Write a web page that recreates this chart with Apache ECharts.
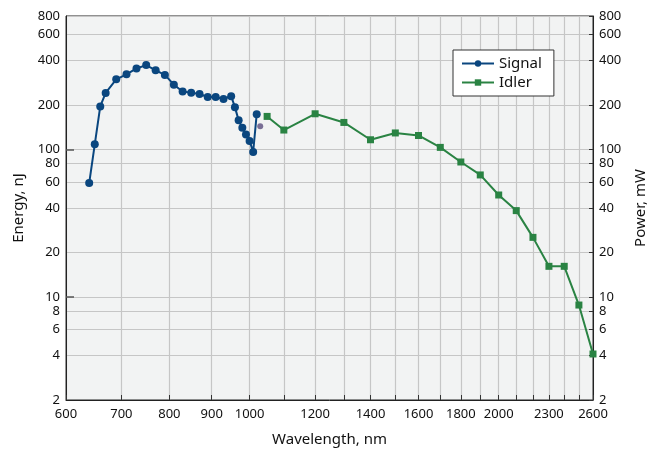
<!DOCTYPE html>
<html>
<head>
<meta charset="utf-8">
<script src="https://cdn.jsdelivr.net/npm/echarts@6/dist/echarts.min.js"></script>
<style>
  html, body { margin: 0; padding: 0; background: #fff; }
  #chart { width: 659px; height: 453px; }
</style>
</head>
<body>
<div id="chart"></div>
<script>
// signal (blue) - wavelength nm / energy nJ
var signalWl = [640, 650, 660, 670, 690, 710, 730, 750, 770, 790, 810, 830, 850, 870, 890, 910, 930, 950, 960, 970, 980, 990, 1000, 1010, 1020];
var signalE = [59, 108, 195, 241, 298, 322, 353, 372, 343, 319, 274, 246, 242, 237, 226, 226, 219, 229, 193, 157, 140, 126, 114, 96, 173];

// lone purple point next to the signal curve
var extraWl = [1030];
var extraE = [143];

// idler (green) - wavelength nm / power mW
var idlerWl = [1050, 1100, 1200, 1300, 1400, 1500, 1600, 1700, 1800, 1900, 2000, 2100, 2200, 2300, 2400, 2500, 2600];
var idlerP = [167, 135, 174, 152, 116, 129, 124, 103, 82, 67, 49, 38.4, 25.3, 16.1, 16.1, 8.8, 4.1];

// axis ticks
var xTicks = [600, 700, 800, 900, 1000, 1100, 1200, 1300, 1400, 1500, 1600, 1700, 1800, 1900, 2000, 2100, 2200, 2300, 2400, 2500, 2600];
var xLabels = [600, 700, 800, 900, 1000, 1200, 1400, 1600, 1800, 2000, 2300, 2600];
var yTicks = [2, 4, 6, 8, 10, 20, 40, 60, 80, 100, 200, 400, 600, 800];
var yMajor = [10, 100];

function pairs(xs, ys) {
    return xs.map((x, i) => [x, ys[i]]);
}

var font = 'Noto Sans';
var plain = v => String(Math.round(v));

const option = {
    animation: false,
    textStyle: { fontFamily: font },
    grid: {
        left: 66, right: 66, top: 16, bottom: 53,
        show: true,
        backgroundColor: '#f2f3f3',
        borderColor: '#222',
        borderWidth: 1
    },
    legend: {
        data: ['Signal', 'Idler'],
        orient: 'vertical',
        left: 453, top: 50,
        backgroundColor: '#fff',
        borderColor: '#333',
        borderWidth: 1,
        borderRadius: 0,
        padding: [6, 12, 6, 8],
        itemGap: 4,
        itemWidth: 32,
        itemHeight: 8,
        textStyle: { fontFamily: font, fontSize: 15, color: '#111' }
    },
    xAxis: {
        type: 'log',
        min: 600, max: 2600,
        name: 'Wavelength, nm',
        nameLocation: 'middle',
        nameGap: 32,
        nameTextStyle: { fontFamily: font, fontSize: 15, color: '#111' },
        axisLine: { lineStyle: { color: '#222', width: 1 } },
        axisTick: { show: true, inside: true, length: 5, customValues: xTicks, lineStyle: { color: '#333' } },
        axisLabel: { customValues: xLabels, formatter: plain, fontFamily: font, fontSize: 13, color: '#111', margin: 8 },
        splitLine: { show: true, lineStyle: { color: '#c6c6c6', width: 1.2 } },
        minorTick: { show: false },
        minorSplitLine: { show: false }
    },
    yAxis: [{
        type: 'log',
        min: 2, max: 800,
        name: 'Energy, nJ',
        nameLocation: 'middle',
        nameGap: 40,
        nameTextStyle: { fontFamily: font, fontSize: 15, color: '#111' },
        axisLine: { show: true, lineStyle: { color: '#222', width: 1 } },
        axisTick: { show: false, customValues: yTicks },
        axisLabel: { customValues: yTicks, formatter: plain, fontFamily: font, fontSize: 13, color: '#111', margin: 6 },
        splitLine: { show: true, lineStyle: { color: '#c6c6c6', width: 1.2 } }
    }, {
        type: 'log',
        min: 2, max: 800,
        position: 'right',
        name: 'Power, mW',
        nameLocation: 'middle',
        nameGap: 40,
        nameRotate: 90,
        nameTextStyle: { fontFamily: font, fontSize: 15, color: '#111' },
        axisLine: { show: true, lineStyle: { color: '#222', width: 1 } },
        axisTick: { show: true, inside: true, length: 4, customValues: yTicks, lineStyle: { color: '#333' } },
        axisLabel: { customValues: yTicks, formatter: plain, fontFamily: font, fontSize: 13, color: '#111', margin: 6 },
        splitLine: { show: false }
    }, {
        // only the longer inner ticks at 10 and 100 on the left side
        type: 'log',
        min: 2, max: 800,
        position: 'left',
        axisLine: { show: false },
        axisTick: { show: true, inside: true, length: 8, customValues: yMajor, lineStyle: { color: '#555', width: 1.5 } },
        axisLabel: { show: false },
        splitLine: { show: false }
    }],
    series: [{
        name: 'Signal',
        type: 'line',
        yAxisIndex: 0,
        data: pairs(signalWl, signalE),
        symbol: 'circle',
        symbolSize: 8,
        lineStyle: { color: '#0a467f', width: 2 },
        itemStyle: { color: '#0a467f' }
    }, {
        name: 'extra',
        type: 'scatter',
        yAxisIndex: 0,
        data: pairs(extraWl, extraE),
        symbol: 'circle',
        symbolSize: 6,
        itemStyle: { color: '#5b4d7e' }
    }, {
        name: 'Idler',
        type: 'line',
        yAxisIndex: 1,
        data: pairs(idlerWl, idlerP),
        symbol: 'rect',
        symbolSize: 7,
        lineStyle: { color: '#2a8343', width: 2 },
        itemStyle: { color: '#2a8343' }
    }]
};

const mychart = echarts.init(document.getElementById('chart'));
mychart.setOption(option);
</script>
</body>
</html>
